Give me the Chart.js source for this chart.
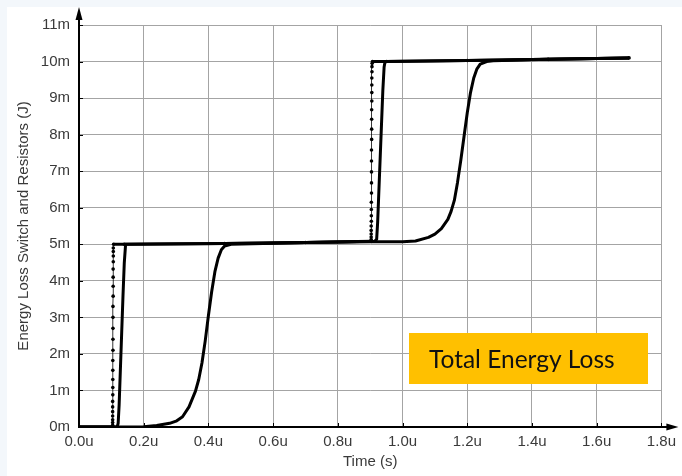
<!DOCTYPE html>
<html>
<head>
<meta charset="utf-8">
<script src="https://cdn.jsdelivr.net/npm/chart.js@4.4.1/dist/chart.umd.min.js"></script>
<style>
  html, body { margin: 0; padding: 0; background: #f3f7fb; }
  #panel { position: absolute; left: 7px; top: 7px; width: 675px; height: 469px; background: #ffffff; }
  #wrap { position: absolute; left: 0; top: 0; width: 682px; height: 476px; }
</style>
</head>
<body>
<div id="panel"></div>
<div id="wrap"><canvas id="c" width="682" height="476"></canvas></div>
<script>
// Axis ticks: time in microseconds, energy in millijoules
const timeTicks = [0, 0.2, 0.4, 0.6, 0.8, 1.0, 1.2, 1.4, 1.6, 1.8];
const energyTicks = [0, 1, 2, 3, 4, 5, 6, 7, 8, 9, 10, 11];

// Fastest switching trace (drawn with point markers)
const fastTime = [
  0, 0.104,
  0.104, 0.104, 0.104, 0.104, 0.104, 0.104, 0.104, 0.1045, 0.1045, 0.1045,
  0.1045, 0.1045, 0.105, 0.105, 0.105, 0.105, 0.105, 0.1055, 0.1055, 0.1055,
  0.1055, 0.106, 0.106, 0.106, 0.106, 0.107,
  0.14, 0.45, 0.70, 0.903,
  0.903, 0.903, 0.903, 0.903, 0.903, 0.9035, 0.9035, 0.9035, 0.9035, 0.904,
  0.904, 0.904, 0.904, 0.904, 0.9045, 0.9045, 0.9045, 0.9045, 0.905, 0.905,
  0.905, 0.905, 0.9055, 0.9055, 0.906, 0.907,
  0.95, 1.20, 1.45, 1.70
];
const fastEnergy = [
  0, 0,
  0.05, 0.12, 0.2, 0.3, 0.42, 0.55, 0.7, 0.88, 1.08, 1.3,
  1.55, 1.82, 2.1, 2.4, 2.7, 3.0, 3.3, 3.58, 3.85, 4.1,
  4.32, 4.52, 4.68, 4.8, 4.9, 5.0,
  5.0, 5.02, 5.05, 5.08,
  5.13, 5.2, 5.28, 5.38, 5.5, 5.63, 5.78, 5.95, 6.15, 6.4,
  6.68, 6.98, 7.28, 7.58, 7.87, 8.15, 8.42, 8.68, 8.92, 9.15,
  9.36, 9.55, 9.72, 9.86, 9.95, 10.0,
  10.0, 10.03, 10.06, 10.1
];

// Intermediate switching trace
const midTime = [
  0, 0.118, 0.121, 0.124, 0.128, 0.132, 0.136, 0.140, 0.144,
  0.45, 0.70, 0.914, 0.920, 0.923, 0.927, 0.931, 0.935, 0.939, 0.943, 0.946,
  1.20, 1.45, 1.70
];
const midEnergy = [
  0, 0, 0.1, 0.6, 1.6, 2.6, 3.6, 4.5, 5.0,
  5.02, 5.05, 5.08, 5.14, 5.6, 6.5, 7.4, 8.3, 9.2, 9.85, 10.0,
  10.03, 10.06, 10.1
];

// Slowest switching trace (soft S-shaped transitions)
const slowTime = [
  0, 0.15, 0.20, 0.24, 0.28, 0.30, 0.32, 0.34, 0.36, 0.37, 0.38, 0.39,
  0.40, 0.41, 0.42, 0.43, 0.44, 0.45, 0.47,
  0.70, 0.90, 1.00, 1.04, 1.08, 1.10, 1.12, 1.14, 1.15, 1.16, 1.17, 1.18,
  1.19, 1.20, 1.21, 1.22, 1.23, 1.24, 1.26, 1.28, 1.45, 1.70
];
const slowEnergy = [
  0, 0, 0.01, 0.04, 0.1, 0.16, 0.28, 0.55, 0.98, 1.3, 1.75, 2.35,
  3.05, 3.7, 4.25, 4.62, 4.85, 4.95, 5.0,
  5.05, 5.07, 5.07, 5.09, 5.19, 5.28, 5.43, 5.68, 5.9, 6.2, 6.7, 7.3,
  7.95, 8.6, 9.15, 9.55, 9.8, 9.93, 10.0, 10.02, 10.06, 10.1
];

const toPoints = (xs, ys) => xs.map((v, i) => ({ x: v, y: ys[i] }));

const tickFont = { family: "'Liberation Sans', Arial, sans-serif", size: 15 };
const tickColor = '#3a3a3a';
const gridColor = '#a4a4a4';

// Black axes with arrowheads, small inward tick marks and the caption box
const axisDecor = {
  id: 'axisDecor',
  afterDatasetsDraw(chart) {
    const { ctx, chartArea: a, scales: { x, y } } = chart;
    const x0 = x.getPixelForValue(0);
    const y0 = y.getPixelForValue(0);
    ctx.save();
    ctx.strokeStyle = '#000';
    ctx.fillStyle = '#000';
    ctx.lineWidth = 1;
    // inward tick marks
    x.ticks.forEach(t => {
      const px = Math.round(x.getPixelForValue(t.value)) + 0.5;
      ctx.beginPath(); ctx.moveTo(px, y0); ctx.lineTo(px, y0 - 4); ctx.stroke();
    });
    y.ticks.forEach(t => {
      const py = Math.round(y.getPixelForValue(t.value)) + 0.5;
      ctx.beginPath(); ctx.moveTo(x0, py); ctx.lineTo(x0 + 4, py); ctx.stroke();
    });
    // axes lines
    ctx.lineWidth = 2;
    ctx.beginPath(); ctx.moveTo(x0, y0 + 1); ctx.lineTo(x0, a.top - 6); ctx.stroke();
    ctx.beginPath(); ctx.moveTo(x0 - 1, y0); ctx.lineTo(a.right + 6, y0); ctx.stroke();
    // arrowheads
    ctx.beginPath();
    ctx.moveTo(x0, a.top - 18); ctx.lineTo(x0 - 3.5, a.top - 5); ctx.lineTo(x0 + 3.5, a.top - 5);
    ctx.closePath(); ctx.fill();
    ctx.beginPath();
    ctx.moveTo(a.right + 17, y0); ctx.lineTo(a.right + 5, y0 - 3.5); ctx.lineTo(a.right + 5, y0 + 3.5);
    ctx.closePath(); ctx.fill();

    // caption box
    ctx.fillStyle = '#ffc000';
    ctx.fillRect(409, 333, 239, 51);
    ctx.fillStyle = '#111';
    ctx.font = "24.5px Lato, 'Open Sans', sans-serif";
    ctx.textBaseline = 'alphabetic';
    ctx.textAlign = 'left';
    ctx.fillText('Total Energy Loss', 429, 368);
    ctx.restore();
  }
};

new Chart(document.getElementById('c'), {
  type: 'scatter',
  data: {
    datasets: [
      {
        data: toPoints(fastTime, fastEnergy),
        showLine: true,
        borderColor: '#000',
        backgroundColor: '#000',
        borderWidth: 3,
        pointRadius: 1.8,
        pointBorderWidth: 0,
        segment: {
          borderWidth: ctx => Math.abs(ctx.p1.parsed.y - ctx.p0.parsed.y) > 0.04 ? 0.8 : 3
        }
      },
      {
        data: toPoints(midTime, midEnergy),
        showLine: true,
        borderColor: '#000',
        borderWidth: 3,
        pointRadius: 0
      },
      {
        data: toPoints(slowTime, slowEnergy),
        showLine: true,
        borderColor: '#000',
        borderWidth: 3,
        pointRadius: 0
      }
    ]
  },
  options: {
    responsive: false,
    animation: false,
    events: [],
    layout: { padding: { top: 25, right: 17, left: 0, bottom: 0 } },
    elements: { line: { tension: 0, borderJoinStyle: 'round', borderCapStyle: 'butt' } },
    plugins: { legend: { display: false }, tooltip: { enabled: false } },
    scales: {
      x: {
        type: 'linear',
        min: 0,
        max: 1.8,
        afterBuildTicks: s => { s.ticks = timeTicks.map(v => ({ value: v })); },
        afterFit: s => { s.height = 49; },
        ticks: {
          callback: v => v.toFixed(1) + 'u',
          color: tickColor,
          font: tickFont,
          padding: 6,
          maxRotation: 0,
          autoSkip: false
        },
        grid: { color: gridColor, lineWidth: 1, drawTicks: false },
        border: { display: false },
        title: {
          display: true,
          text: 'Time (s)',
          color: tickColor,
          font: tickFont,
          padding: { top: 0, bottom: 5 }
        }
      },
      y: {
        type: 'linear',
        min: 0,
        max: 11,
        afterBuildTicks: s => { s.ticks = energyTicks.map(v => ({ value: v })); },
        afterFit: s => { s.width = 79; },
        ticks: {
          callback: v => v + 'm',
          color: tickColor,
          font: tickFont,
          padding: 9,
          autoSkip: false
        },
        grid: { color: gridColor, lineWidth: 1, drawTicks: false },
        border: { display: false },
        title: {
          display: true,
          text: 'Energy Loss Switch and Resistors (J)',
          color: tickColor,
          font: tickFont,
          padding: { top: 15, bottom: 0 }
        }
      }
    }
  },
  plugins: [axisDecor]
});
</script>
</body>
</html>
